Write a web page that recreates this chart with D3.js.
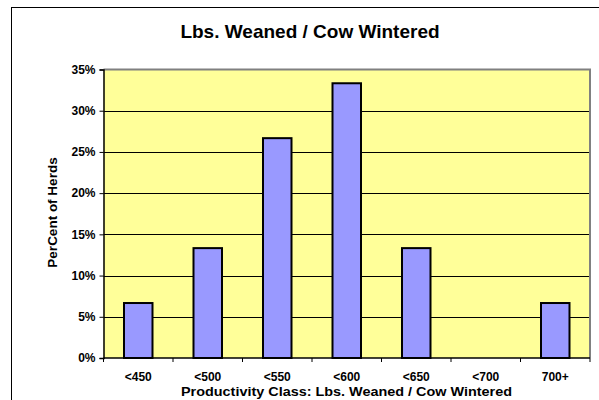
<!DOCTYPE html>
<html>
<head>
<meta charset="utf-8">
<script src="https://cdn.jsdelivr.net/npm/d3@7"></script>
<style>
  body { margin: 0; background: #fff; }
  text { font-family: "Liberation Sans", Arial, sans-serif; font-weight: bold; fill: #000; }
</style>
</head>
<body>
<svg width="599" height="400"></svg>
<script>
// data
var categories = ["<450", "<500", "<550", "<600", "<650", "<700", "700+"];
var percents = [6.67, 13.33, 26.67, 33.33, 13.33, 0, 6.67];
var yTicks = [0, 5, 10, 15, 20, 25, 30, 35];

var svg = d3.select("svg"),
	width = +svg.attr("width"),
	height = +svg.attr("height"),
	plotLeft = 103.5,
	plotRight = 590,
	plotTop = 69.5,
	plotBottom = 358;

// outer chart frame
svg.append("rect")
	.attr("x", 11.5).attr("y", 7.5)
	.attr("width", 620).attr("height", 420)
	.attr("fill", "#fff")
	.attr("stroke", "#000")
	.attr("stroke-width", 1);

var x = d3.scaleBand()
	.domain(categories)
	.range([plotLeft, plotRight])
	.paddingInner(0.59)
	.paddingOuter(0.295);

var y = d3.scaleLinear()
	.domain([0, 35])
	.range([plotBottom, plotTop]);

// plot background
svg.append("rect")
	.attr("x", plotLeft).attr("y", plotTop)
	.attr("width", plotRight - plotLeft).attr("height", plotBottom - plotTop)
	.attr("fill", "#FFFF99");

// gridlines
svg.append("g")
	.selectAll("line")
	.data(yTicks.filter(function(d) { return d > 0 && d < 35; }))
	.enter()
	.append("line")
	.attr("x1", plotLeft).attr("x2", plotRight)
	.attr("y1", function(d) { return Math.round(y(d)) + 0.5; })
	.attr("y2", function(d) { return Math.round(y(d)) + 0.5; })
	.attr("stroke", "#000")
	.attr("stroke-width", 1);

// plot border (top + right gray)
svg.append("path")
	.attr("d", "M" + plotLeft + "," + plotTop + "H" + plotRight + "V" + plotBottom)
	.attr("fill", "none")
	.attr("stroke", "#808080")
	.attr("stroke-width", 2);

// bars
svg.append("g")
	.selectAll("rect")
	.data(categories.map(function(c, i) { return {cat: c, val: percents[i]}; }).filter(function(d) { return d.val > 0; }))
	.enter()
	.append("rect")
	.attr("x", function(d) { return x(d.cat); })
	.attr("y", function(d) { return y(d.val); })
	.attr("width", x.bandwidth())
	.attr("height", function(d) { return plotBottom - y(d.val); })
	.attr("fill", "#9999FF")
	.attr("stroke", "#000")
	.attr("stroke-width", 2);

// y axis
var yAxis = svg.append("g")
	.attr("transform", "translate(" + plotLeft + ",0)")
	.call(d3.axisLeft(y).tickValues(yTicks).tickSize(4).tickPadding(4)
		.tickFormat(function(d) { return d + "%"; }));
yAxis.select(".domain").attr("stroke", "#000").attr("stroke-width", 1.5);
yAxis.selectAll("text").style("font-size", "12px").style("font-family", "Liberation Sans, Arial, sans-serif").style("font-weight", "bold");

// x axis (ticks at band boundaries)
var xAxis = svg.append("g")
	.attr("transform", "translate(0," + plotBottom + ")");
xAxis.append("line")
	.attr("x1", plotLeft).attr("x2", plotRight)
	.attr("stroke", "#000").attr("stroke-width", 1.5);
var step = x.step();
xAxis.selectAll(".tk")
	.data(d3.range(categories.length + 1))
	.enter()
	.append("line")
	.attr("class", "tk")
	.attr("x1", function(i) { return plotLeft + i * step; })
	.attr("x2", function(i) { return plotLeft + i * step; })
	.attr("y1", 0).attr("y2", 4)
	.attr("stroke", "#000");
xAxis.selectAll(".lbl")
	.data(categories)
	.enter()
	.append("text")
	.attr("class", "lbl")
	.attr("x", function(d) { return x(d) + x.bandwidth() / 2; })
	.attr("y", 22.5)
	.attr("text-anchor", "middle")
	.style("font-size", "12px")
	.text(function(d) { return d; });

// titles
svg.append("text")
	.attr("x", 310).attr("y", 38)
	.attr("text-anchor", "middle")
	.style("font-size", "19px")
	.text("Lbs. Weaned / Cow Wintered");

svg.append("text")
	.attr("x", 181).attr("y", 395.5)
	.attr("textLength", 331)
	.attr("lengthAdjust", "spacingAndGlyphs")
	.style("font-size", "13px")
	.text("Productivity Class: Lbs. Weaned / Cow Wintered");

svg.append("text")
	.attr("transform", "translate(57,212.5) rotate(-90)")
	.attr("text-anchor", "middle")
	.style("font-size", "13.5px")
	.text("PerCent of Herds");
</script>
</body>
</html>
